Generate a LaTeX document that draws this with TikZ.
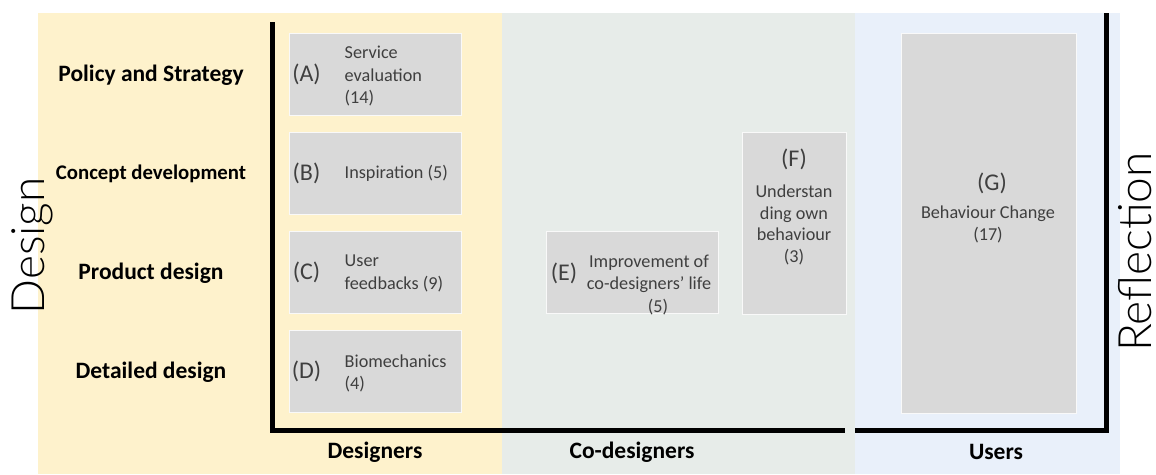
\documentclass[tikz,border=0pt]{standalone}
\usepackage{fontspec}
\setmainfont{Carlito}
\newfontfamily\lightfont{Lato}[UprightFont=* Light]
\usetikzlibrary{positioning}

\definecolor{designbg}{HTML}{FEF2CC}
\definecolor{codesignbg}{HTML}{E7ECE9}
\definecolor{userbg}{HTML}{E9F0FA}
\definecolor{cellgray}{HTML}{D9D9D9}
\definecolor{celltext}{HTML}{3F3F3F}

\tikzset{
  cell/.style={rectangle, fill=cellgray, draw=white!85!cellgray, line width=1pt, inner sep=0pt},
  tag/.style={font=\fontsize{24}{27}\selectfont, text=celltext, inner sep=0pt},
  desc/.style={font=\fontsize{18.2}{22.5}\selectfont, text=celltext, inner sep=0pt},
  stage/.style={font=\fontsize{23.5}{26}\selectfont\bfseries, inner sep=0pt},
  actor/.style={font=\fontsize{23.5}{26}\selectfont\bfseries, inner sep=0pt},
  axisline/.style={line width=5pt, black},
  bigaxis/.style={font=\lightfont\fontsize{46}{50}\selectfont, rotate=90, inner sep=0pt},
}

\begin{document}
\begin{tikzpicture}[x=1pt, y=-1pt]
\useasboundingbox (0,0) rectangle (1156,474);

% three coloured bands
\fill[designbg] (38,13) rectangle (502,474);
\fill[codesignbg] (502,13) rectangle (855,474);
\fill[userbg] (855,13) rectangle (1120,474);

% design stages on the left
\node[stage] (stage1) at (151,75) {Policy and Strategy};
\node[stage, font=\fontsize{20.8}{24}\selectfont\bfseries] (stage2) at (151,174) {Concept development};
\node[stage] (stage3) at (151,273) {Product design};
\node[stage] (stage4) at (151,372) {Detailed design};

% designers column
\node[cell, minimum width=172, minimum height=82] (A) at (375,74) {};
\node[cell, minimum width=172, minimum height=82] (B) at (375,173) {};
\node[cell, minimum width=172, minimum height=82] (C) at (375,272) {};
\node[cell, minimum width=172, minimum height=82] (D) at (375,371.5) {};
\foreach \c in {A,B,C,D} {
  \node[tag] (tag\c) at ([xshift=18]\c.west) {(\c)};
}
\node[desc, anchor=west, align=left] (descA) at ([xshift=56,yshift=-2]A.west) {Service\\evaluation\\(14)};
\node[desc, anchor=west, align=left] (descB) at ([xshift=56]B.west) {Inspiration (5)};
\node[desc, anchor=west, align=left] (descC) at ([xshift=56,yshift=-1.5]C.west) {User\\feedbacks (9)};
\node[desc, anchor=west, align=left] (descD) at ([xshift=56,yshift=-2]D.west) {Biomechanics\\(4)};

% co-designers column
\node[cell, minimum width=172, minimum height=82] (E) at (632,272) {};
\node[tag] (tagE) at (564,273) {(E)};
\node[desc, align=center] (descE) at (649,285) {Improvement of\\co-designers' life\\\hspace*{18pt}(5)};
\node[cell, minimum width=104, minimum height=182] (F) at (794,223) {};
\node[tag] (tagF) at (794,159) {(F)};
\node[desc, align=center, font=\fontsize{18.2}{21.7}\selectfont] (descF) at (794,225) {Understan\\ding own\\behaviour\\(3)};

% users column
\node[cell, minimum width=175, minimum height=380] (G) at (988.5,223) {};
\node[tag] (tagG) at (992,183) {(G)};
\node[desc, align=center] (descG) at (988,224.5) {Behaviour Change\\(17)};

% axes
\coordinate (ltop) at (272,22);
\coordinate (lcorner) at (272,430);
\coordinate (gapl) at (845,430);
\coordinate (gapr) at (855,430);
\coordinate (rcorner) at (1106,430);
\coordinate (rtop) at (1106,13);
\draw[axisline] (ltop) -- (lcorner) -- (gapl);
\draw[axisline] (gapr) -- (rcorner) -- (rtop);

% actors along the bottom
\node[actor] (designers) at (375,452) {Designers};
\node[actor] (codesigners) at (632,452) {Co-designers};
\node[actor] (users) at (996,452) {Users};

% axis titles
\node[bigaxis] (design) at (32,246) {Design};
\node[bigaxis] (reflection) at (1135,252) {Reflection};
\end{tikzpicture}
\end{document}
